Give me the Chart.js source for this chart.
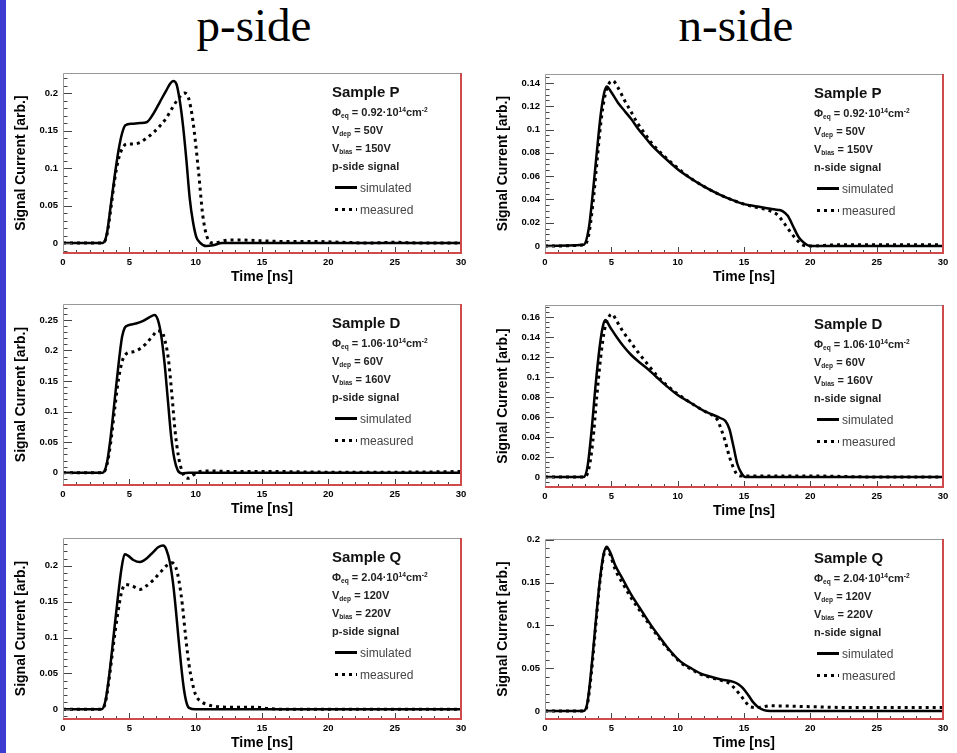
<!DOCTYPE html>
<html>
<head>
<meta charset="utf-8">
<script src="https://cdn.jsdelivr.net/npm/chart.js@4.4.1/dist/chart.umd.min.js"></script>
<style>
  html, body { margin: 0; padding: 0; background: #fff; }
  body { width: 957px; height: 753px; position: relative; overflow: hidden; font-family: "Liberation Sans", Arial, sans-serif; }
  #strip { position: absolute; left: 0; top: 0; width: 6px; height: 753px; background: #3c3cd2; }
  .side { position: absolute; top: 2px; width: 240px; text-align: center; font-family: "Liberation Serif", "Times New Roman", serif; font-size: 47px; line-height: 47px; color: #000; }
  canvas { position: absolute; }
  .row { position: absolute; white-space: nowrap; height: 14px; line-height: 14px; color: #222; font-size: 11px; font-weight: bold; }
  .row.sample { font-size: 15px; height: 18px; line-height: 18px; color: #111; }
  .row.key { font-weight: normal; font-size: 12px; color: #444; }
  .row sub, .row sup { font-size: 0.6em; position: relative; vertical-align: baseline; }
  .row sub { top: 0.35em; }
  .row sup { top: -0.55em; }
  .swatch { display: inline-block; width: 22px; height: 3px; vertical-align: middle; margin-right: 3px; position: relative; top: -1px; }
  .swatch.solid { background: #000; }
  .swatch.dash { background: repeating-linear-gradient(90deg, #000 0 3px, transparent 3px 7px); }
</style>
</head>
<body>
<div id="strip"></div>
<div class="side" style="left:134px">p-side</div>
<div class="side" style="left:616px">n-side</div>

<script>
// --- Axis ticks ---
const timeTicks = [0, 5, 10, 15, 20, 25, 30];
const ticks005 = [0, 0.05, 0.1, 0.15, 0.2];
const ticks005b = [0, 0.05, 0.1, 0.15, 0.2, 0.25];
const ticks002a = [0, 0.02, 0.04, 0.06, 0.08, 0.1, 0.12, 0.14];
const ticks002b = [0, 0.02, 0.04, 0.06, 0.08, 0.1, 0.12, 0.14, 0.16];

// --- Sample annotations ---
const samples = ['P', 'D', 'Q'];
const fluence = ['0.92', '1.06', '2.04'];
const vDep = ['50V', '60V', '120V'];
const vBias = ['150V', '160V', '220V'];

// --- Sample P, p-side ---
const tP_pSim = [0, 3.0, 3.3, 3.6, 3.9, 4.2, 4.45, 4.7, 5.2, 5.8, 6.3, 6.8, 7.3, 7.8, 8.1, 8.3, 8.55, 8.8, 9.05, 9.3, 9.55, 9.8, 10.05, 10.3, 10.8, 11.3, 12, 30];
const iP_pSim = [0, 0, 0.012, 0.05, 0.09, 0.125, 0.146, 0.157, 0.159, 0.16, 0.161, 0.172, 0.188, 0.204, 0.213, 0.216, 0.212, 0.19, 0.156, 0.111, 0.06, 0.028, 0.008, 0.001, -0.004, -0.003, 0, 0];
const tP_pMeas = [0, 3.0, 3.3, 3.6, 3.9, 4.2, 4.5, 4.8, 5.3, 5.8, 6.3, 6.8, 7.3, 7.8, 8.3, 8.8, 9.15, 9.45, 9.8, 10.2, 10.55, 10.9, 11.3, 12.5, 13.5, 15, 17, 19, 21, 23, 25, 27, 30];
const iP_pMeas = [0, 0, 0.01, 0.045, 0.085, 0.113, 0.127, 0.132, 0.132, 0.134, 0.14, 0.147, 0.156, 0.167, 0.182, 0.195, 0.2, 0.194, 0.162, 0.098, 0.035, 0.006, 0, 0.004, 0.004, 0.003, 0.002, 0.002, 0.001, 0, 0.001, 0, 0];

// --- Sample P, n-side ---
const tP_nSim = [0, 2.9, 3.3, 3.6, 3.9, 4.2, 4.45, 4.65, 5.0, 5.5, 6.0, 6.5, 7.0, 7.5, 8.0, 9.0, 10.0, 11.0, 12.0, 13.0, 14.0, 15.0, 16.0, 17.0, 17.6, 17.9, 18.3, 18.7, 19.1, 19.5, 20.0, 30];
const iP_nSim = [0, 0.001, 0.015, 0.045, 0.08, 0.113, 0.131, 0.137, 0.132, 0.123, 0.116, 0.109, 0.101, 0.094, 0.087, 0.076, 0.066, 0.058, 0.051, 0.045, 0.04, 0.036, 0.034, 0.032, 0.031, 0.03, 0.026, 0.017, 0.008, 0.003, 0, 0];
const tP_nMeas = [0, 3.0, 3.3, 3.6, 3.9, 4.2, 4.5, 4.8, 5.1, 5.5, 6.0, 6.5, 7.0, 7.5, 8.0, 9.0, 10, 11, 12, 13, 14, 15, 16, 17, 17.5, 18.0, 18.5, 19.0, 19.4, 20, 22, 25, 28, 30];
const iP_nMeas = [0, 0.001, 0.01, 0.035, 0.07, 0.105, 0.128, 0.139, 0.142, 0.136, 0.125, 0.115, 0.105, 0.097, 0.089, 0.077, 0.067, 0.058, 0.051, 0.045, 0.04, 0.036, 0.033, 0.03, 0.027, 0.02, 0.012, 0.005, 0.001, 0, 0.001, 0.001, 0.001, 0.001];

// --- Sample D, p-side ---
const tD_pSim = [0, 3.0, 3.3, 3.6, 3.9, 4.2, 4.45, 4.65, 4.9, 5.5, 6.0, 6.5, 6.9, 7.15, 7.4, 7.65, 7.9, 8.15, 8.4, 8.65, 9.0, 9.5, 30];
const iD_pSim = [0, 0, 0.015, 0.06, 0.12, 0.18, 0.222, 0.237, 0.241, 0.244, 0.248, 0.254, 0.258, 0.25, 0.225, 0.18, 0.12, 0.06, 0.022, 0.004, -0.001, 0, 0];
const tD_pMeas = [0, 3.0, 3.3, 3.6, 3.9, 4.2, 4.5, 4.8, 5.3, 5.8, 6.3, 6.8, 7.1, 7.4, 7.7, 7.95, 8.2, 8.45, 8.7, 8.95, 9.2, 9.5, 9.8, 10.2, 11, 13, 16, 20, 25, 30];
const iD_pMeas = [0, 0, 0.012, 0.05, 0.105, 0.155, 0.185, 0.195, 0.198, 0.203, 0.212, 0.225, 0.232, 0.232, 0.215, 0.185, 0.13, 0.068, 0.027, 0.004, -0.007, -0.009, -0.004, 0.001, 0.003, 0.002, 0.002, 0.001, 0.001, 0.002];

// --- Sample D, n-side ---
const tD_nSim = [0, 2.9, 3.2, 3.5, 3.8, 4.1, 4.35, 4.55, 4.9, 5.4, 5.9, 6.5, 7.0, 7.66, 8.4, 9.16, 10.0, 11.0, 12.0, 12.7, 13.2, 13.6, 13.9, 14.2, 14.5, 14.8, 15.1, 30];
const iD_nSim = [0, 0, 0.01, 0.045, 0.09, 0.128, 0.15, 0.157, 0.15, 0.14, 0.131, 0.122, 0.116, 0.109, 0.1, 0.091, 0.082, 0.074, 0.066, 0.062, 0.059, 0.056, 0.048, 0.031, 0.013, 0.004, 0, 0];
const tD_nMeas = [0, 3.0, 3.3, 3.6, 3.9, 4.2, 4.5, 4.8, 5.05, 5.4, 5.9, 6.4, 7.0, 7.66, 8.4, 9.16, 10.0, 11.0, 12.0, 12.7, 13.0, 13.3, 13.56, 13.8, 14.06, 14.4, 14.8, 15.5, 20, 25, 30];
const iD_nMeas = [0, 0, 0.008, 0.035, 0.08, 0.12, 0.148, 0.16, 0.163, 0.156, 0.145, 0.136, 0.125, 0.114, 0.102, 0.092, 0.083, 0.074, 0.066, 0.061, 0.057, 0.047, 0.037, 0.025, 0.014, 0.004, 0.001, 0.001, 0.001, 0, 0];

// --- Sample Q, p-side ---
const tQ_pSim = [0, 2.9, 3.2, 3.5, 3.8, 4.1, 4.4, 4.65, 4.9, 5.3, 5.8, 6.3, 6.8, 7.2, 7.55, 7.8, 8.05, 8.3, 8.5, 8.7, 8.9, 9.1, 9.3, 9.5, 10, 30];
const iQ_pSim = [0, 0, 0.012, 0.05, 0.1, 0.15, 0.195, 0.216, 0.214, 0.208, 0.205, 0.21, 0.219, 0.226, 0.228, 0.222, 0.205, 0.175, 0.14, 0.1, 0.062, 0.03, 0.01, 0.002, 0, 0];
const tQ_pMeas = [0, 2.9, 3.2, 3.5, 3.8, 4.1, 4.4, 4.7, 5.2, 5.8, 6.3, 6.8, 7.3, 7.8, 8.2, 8.5, 8.75, 9.0, 9.25, 9.5, 9.75, 10.0, 10.4, 10.8, 11.5, 12.5, 13.5, 14.5, 15.5, 17, 30];
const iQ_pMeas = [0, 0, 0.01, 0.045, 0.09, 0.13, 0.162, 0.174, 0.172, 0.167, 0.172, 0.18, 0.19, 0.2, 0.204, 0.198, 0.178, 0.145, 0.1, 0.062, 0.037, 0.02, 0.011, 0.007, 0.004, 0.003, 0.003, 0.003, 0.001, 0, 0];

// --- Sample Q, n-side ---
const tQ_nSim = [0, 2.9, 3.2, 3.5, 3.8, 4.1, 4.4, 4.65, 4.9, 5.3, 5.9, 6.5, 7.16, 8.0, 8.66, 9.4, 10.2, 11.0, 11.7, 12.5, 13.2, 14.2, 14.6, 14.9, 15.3, 15.7, 16.1, 16.5, 17, 30];
const iQ_nSim = [0, 0, 0.01, 0.05, 0.1, 0.148, 0.182, 0.192, 0.186, 0.17, 0.153, 0.136, 0.12, 0.1, 0.086, 0.071, 0.058, 0.05, 0.044, 0.04, 0.037, 0.034, 0.031, 0.027, 0.019, 0.01, 0.004, 0.001, 0, 0];
const tQ_nMeas = [0, 2.9, 3.2, 3.5, 3.8, 4.1, 4.4, 4.65, 4.9, 5.3, 5.9, 6.5, 7.16, 8.0, 8.66, 9.4, 10.2, 11.0, 11.7, 12.5, 13.2, 13.8, 14.2, 14.7, 15.1, 15.45, 16.0, 17, 20, 23, 26, 30];
const iQ_nMeas = [0, 0, 0.008, 0.045, 0.095, 0.145, 0.18, 0.19, 0.183, 0.165, 0.148, 0.132, 0.117, 0.098, 0.084, 0.07, 0.057, 0.049, 0.043, 0.039, 0.036, 0.033, 0.028, 0.019, 0.011, 0.005, 0.004, 0.006, 0.005, 0.004, 0.004, 0.004];

// --- Panels: plot rectangle in page px, y range and curves ---
const panels = [
  { rect: [63, 73, 461, 253],  yMin: -0.0133, yMax: 0.2267, yTicks: ticks005,  minor: 0.01,  major: 0.05, s: 0, side: 'p', sim: [tP_pSim, iP_pSim], meas: [tP_pMeas, iP_pMeas] },
  { rect: [545, 74, 943, 253], yMin: -0.006,  yMax: 0.1477, yTicks: ticks002a, minor: 0.005, major: 0.02, s: 0, side: 'n', sim: [tP_nSim, iP_nSim], meas: [tP_nMeas, iP_nMeas] },
  { rect: [63, 304, 461, 485], yMin: -0.020,  yMax: 0.276,  yTicks: ticks005b, minor: 0.01,  major: 0.05, s: 1, side: 'p', sim: [tD_pSim, iD_pSim], meas: [tD_pMeas, iD_pMeas] },
  { rect: [545, 305, 943, 487], yMin: -0.010, yMax: 0.172,  yTicks: ticks002b, minor: 0.005, major: 0.02, s: 1, side: 'n', sim: [tD_nSim, iD_nSim], meas: [tD_nMeas, iD_nMeas] },
  { rect: [63, 538, 461, 719], yMin: -0.0135, yMax: 0.2386, yTicks: ticks005,  minor: 0.01,  major: 0.05, s: 2, side: 'p', sim: [tQ_pSim, iQ_pSim], meas: [tQ_pMeas, iQ_pMeas] },
  { rect: [545, 539, 943, 719], yMin: -0.0094, yMax: 0.201, yTicks: ticks005,  minor: 0.01,  major: 0.05, s: 2, side: 'n', sim: [tQ_nSim, iQ_nSim], meas: [tQ_nMeas, iQ_nMeas] }
];

const Y_AXIS_W = 55, PAD_TOP = 12, PAD_RIGHT = 10, X_AXIS_H = 40;

// ROOT-like frame: inward ticks, grey top/left, red right/bottom
const rootFrame = {
  id: 'rootFrame',
  afterDraw(chart, args, opts) {
    const { ctx, chartArea: a, scales: { x, y } } = chart;
    ctx.save();
    ctx.strokeStyle = '#444';
    ctx.lineWidth = 1;
    ctx.beginPath();
    const n0 = Math.ceil(y.min / opts.minor - 1e-6);
    const n1 = Math.floor(y.max / opts.minor + 1e-6);
    const per = Math.round(opts.major / opts.minor);
    for (let n = n0; n <= n1; n++) {
      const py = Math.round(y.getPixelForValue(n * opts.minor)) + 0.5;
      ctx.moveTo(a.left, py);
      ctx.lineTo(a.left + (n % per === 0 ? 9 : 4.5), py);
    }
    for (let t = 0; t <= 30; t++) {
      const px = Math.round(x.getPixelForValue(t)) + 0.5;
      ctx.moveTo(px, a.bottom);
      ctx.lineTo(px, a.bottom - (t % 5 === 0 ? 6 : 3));
    }
    ctx.stroke();

    ctx.lineWidth = 1;
    ctx.strokeStyle = '#999';
    ctx.beginPath();
    ctx.moveTo(a.left + 0.5, a.bottom);
    ctx.lineTo(a.left + 0.5, a.top + 0.5);
    ctx.lineTo(a.right, a.top + 0.5);
    ctx.stroke();

    ctx.strokeStyle = '#cf4a4a';
    ctx.lineWidth = 2;
    ctx.beginPath();
    ctx.moveTo(a.right, a.top);
    ctx.lineTo(a.right, a.bottom);
    ctx.lineTo(a.left, a.bottom);
    ctx.stroke();
    ctx.restore();
  }
};

const zip = (ts, vs) => ts.map((t, i) => ({ x: t, y: vs[i] }));
const fmt = v => (v === 0 ? '0' : String(+v.toFixed(3)));

function addRow(cls, left, centerY, html) {
  const d = document.createElement('div');
  d.className = 'row ' + cls;
  d.innerHTML = html;
  document.body.appendChild(d);
  const h = cls === 'sample' ? 18 : 14;
  d.style.left = left + 'px';
  d.style.top = (centerY - h / 2) + 'px';
}

panels.forEach(p => {
  const [l, t, r, b] = p.rect;
  const canvas = document.createElement('canvas');
  const w = r - l + Y_AXIS_W + PAD_RIGHT;
  const h = b - t + PAD_TOP + X_AXIS_H;
  canvas.width = w;
  canvas.height = h;
  canvas.style.left = (l - Y_AXIS_W) + 'px';
  canvas.style.top = (t - PAD_TOP) + 'px';
  canvas.style.width = w + 'px';
  canvas.style.height = h + 'px';
  document.body.appendChild(canvas);

  const tickFont = { family: '"Liberation Sans", Arial, sans-serif', size: 9.5, weight: 'bold' };
  const titleFont = { family: '"Liberation Sans", Arial, sans-serif', size: 14, weight: 'bold' };

  new Chart(canvas, {
    type: 'line',
    data: {
      datasets: [
        { label: 'simulated', data: zip(p.sim[0], p.sim[1]), borderColor: '#000', borderWidth: 2.5, pointRadius: 0, cubicInterpolationMode: 'monotone', fill: false },
        { label: 'measured', data: zip(p.meas[0], p.meas[1]), borderColor: '#000', borderWidth: 3, borderDash: [3, 4], borderCapStyle: 'butt', pointRadius: 0, cubicInterpolationMode: 'monotone', fill: false }
      ]
    },
    plugins: [rootFrame],
    options: {
      responsive: false,
      animation: false,
      devicePixelRatio: 1,
      layout: { padding: { left: 0, top: PAD_TOP, right: PAD_RIGHT, bottom: 0 } },
      plugins: {
        legend: { display: false },
        tooltip: { enabled: false },
        rootFrame: { minor: p.minor, major: p.major }
      },
      scales: {
        x: {
          type: 'linear', min: 0, max: 30,
          afterFit: s => { s.height = X_AXIS_H; },
          afterBuildTicks: s => { s.ticks = timeTicks.map(v => ({ value: v })); },
          grid: { display: false, drawTicks: false }, border: { display: false },
          ticks: { font: tickFont, color: '#000', padding: 4, maxRotation: 0, autoSkip: false, callback: v => String(v) },
          title: { display: true, text: 'Time [ns]', font: titleFont, color: '#000', padding: { top: 0, bottom: 7.6 } }
        },
        y: {
          type: 'linear', min: p.yMin, max: p.yMax,
          afterFit: s => { s.width = Y_AXIS_W; },
          afterBuildTicks: s => { s.ticks = p.yTicks.map(v => ({ value: v })); },
          grid: { display: false, drawTicks: false }, border: { display: false },
          ticks: { font: tickFont, color: '#000', padding: 5, autoSkip: false, callback: v => fmt(v) },
          title: { display: true, text: 'Signal Current [arb.]', font: titleFont, color: '#000', padding: { top: 4.6, bottom: 0 } }
        }
      }
    }
  });

  // annotation block
  const nx = l + 269;
  addRow('sample', nx, t + 19, 'Sample ' + samples[p.s]);
  addRow('', nx, t + 39, '&Phi;<sub>eq</sub> = ' + fluence[p.s] + '&middot;10<sup>14</sup>cm<sup>-2</sup>');
  addRow('', nx, t + 57, 'V<sub>dep</sub> = ' + vDep[p.s]);
  addRow('', nx, t + 74.5, 'V<sub>bias</sub> = ' + vBias[p.s]);
  addRow('', nx, t + 92.5, p.side + '-side signal');
  addRow('key', nx + 3, t + 114.5, '<span class="swatch solid"></span>simulated');
  addRow('key', nx + 3, t + 136.5, '<span class="swatch dash"></span>measured');
});
</script>
</body>
</html>
